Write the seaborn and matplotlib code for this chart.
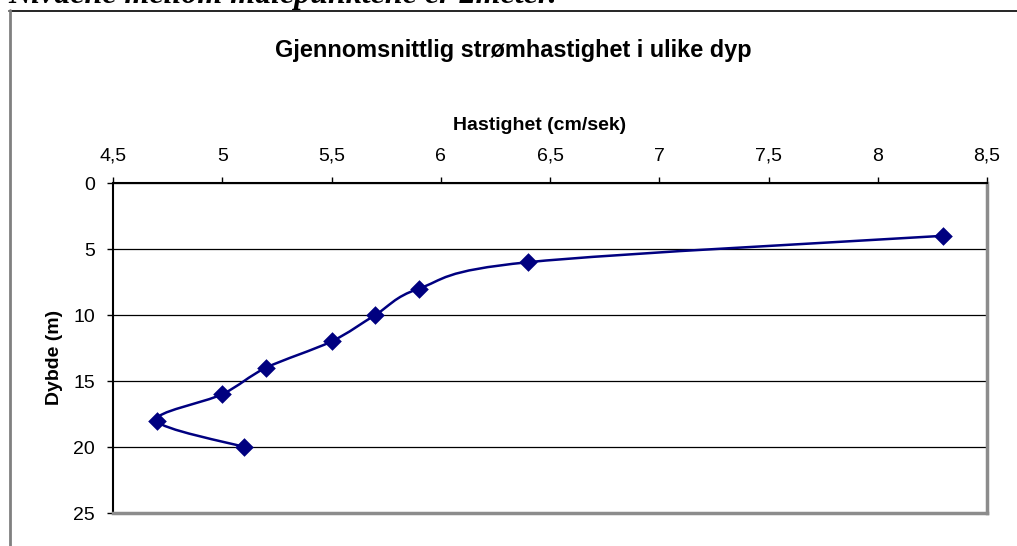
import numpy as np
import matplotlib
matplotlib.use("Agg")
import matplotlib.pyplot as plt
from matplotlib.path import Path
from matplotlib.patches import PathPatch
from matplotlib.lines import Line2D
import seaborn as sns

# data
title = "Gjennomsnittlig strømhastighet i ulike dyp"
note = "Nivåene mellom målepunktene er 2meter."
x_label = "Hastighet (cm/sek)"
y_label = "Dybde (m)"

speed = [8.3, 6.4, 5.9, 5.7, 5.5, 5.2, 5.0, 4.7, 5.1]
depth = [4, 6, 8, 10, 12, 14, 16, 18, 20]
x_ticks = [4.5, 5, 5.5, 6, 6.5, 7, 7.5, 8, 8.5]
y_ticks = [0, 5, 10, 15, 20, 25]

NAVY = "#000080"
W, H = 1017, 546

sns.set_theme(style="white")
plt.rcParams["font.family"] = ["Liberation Sans", "DejaVu Sans"]


def smooth_path(xs, ys, sx, sy):
    # Excel-like smoothed line: cubic bezier through the points,
    # control points computed in screen-proportional units
    p = np.column_stack([np.asarray(xs, float) * sx, np.asarray(ys, float) * sy])
    p_ext = np.vstack([p[0], p, p[-1]])
    verts = [p[0]]
    codes = [Path.MOVETO]
    for i in range(len(p) - 1):
        c1 = p[i] + (p_ext[i + 2] - p_ext[i]) / 6
        c2 = p[i + 1] - (p_ext[i + 3] - p_ext[i + 1]) / 6
        verts += [c1, c2, p[i + 1]]
        codes += [Path.CURVE4] * 3
    verts = np.array(verts) / [sx, sy]
    return Path(verts, codes)


fig = plt.figure(figsize=(W / 100, H / 100), dpi=100)
ax = fig.add_axes([113 / W, 1 - 513 / H, 874 / W, 330 / H])

ax.set_xlim(x_ticks[0], x_ticks[-1])
ax.set_ylim(y_ticks[-1], y_ticks[0])

# smoothed line + diamond markers
sx = 874 / (x_ticks[-1] - x_ticks[0])
sy = 330 / (y_ticks[-1] - y_ticks[0])
ax.add_patch(PathPatch(smooth_path(speed, depth, sx, sy), fill=False,
                       edgecolor=NAVY, lw=1.8, zorder=3))
sns.scatterplot(x=speed, y=depth, marker="D", s=90, color=NAVY,
                edgecolor=NAVY, linewidth=0, ax=ax, zorder=4, clip_on=False)

# axes styling
ax.xaxis.tick_top()
ax.set_xticks(x_ticks)
ax.set_xticklabels([f"{v:g}".replace(".", ",") for v in x_ticks])
ax.set_yticks(y_ticks)
ax.set_yticklabels([f"{v:g}" for v in y_ticks])
ax.tick_params(axis="both", direction="out", length=4.5, width=1, color="black",
               labelsize=14, pad=8.5, labelcolor="black")
ax.tick_params(axis="x", top=True, bottom=False, labeltop=True, labelbottom=False)
ax.tick_params(axis="y", left=True)

ax.yaxis.grid(True, color="black", lw=0.9)
ax.xaxis.grid(False)
ax.set_axisbelow(True)

for side in ["top", "left"]:
    ax.spines[side].set_color("black")
    ax.spines[side].set_linewidth(1.5)
for side in ["right", "bottom"]:
    ax.spines[side].set_color("#8c8c8c")
    ax.spines[side].set_linewidth(2.5)

ax.set_xlabel(x_label, fontsize=14, fontweight="bold", color="black")
ax.xaxis.set_label_position("top")
ax.xaxis.set_label_coords((540 - 113) / 874, (513 - 130) / 330)
ax.set_ylabel(y_label, fontsize=14, fontweight="bold", color="black")
ax.yaxis.set_label_coords((63 - 113) / 874, (513 - 357) / 330)

fig.text(513 / W, 1 - 57 / H, title, ha="center", va="baseline",
         fontsize=16.9, fontweight="bold", color="black")

# text above the chart, clipped by the page edge as in the source
fig.text(8 / W, 1 - 2.5 / H, note, ha="left", va="baseline",
         family=["Liberation Serif", "DejaVu Serif"], style="italic",
         fontweight="bold", fontsize=23, color="black")

# outer chart frame (only top and left visible)
fig.add_artist(Line2D([9 / W, 1], [1 - 10.5 / H, 1 - 10.5 / H],
                      transform=fig.transFigure, color="black", lw=1.2))
fig.add_artist(Line2D([9.5 / W, 9.5 / W], [1 - 10 / H, 0],
                      transform=fig.transFigure, color="#808080", lw=2))

fig.savefig("out.png", dpi=100)
plt.close()
